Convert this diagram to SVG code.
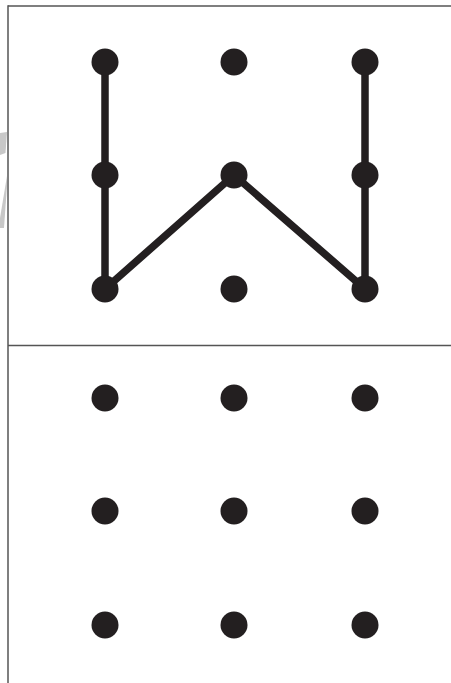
<svg xmlns="http://www.w3.org/2000/svg" width="451" height="683" viewBox="0 0 451 683">
<style>
.frame{stroke:#555;stroke-width:1.5;fill:none}
.dot{fill:#231f20}
.conn{stroke:#231f20;stroke-width:7.5;fill:none;stroke-linejoin:round}
</style>
<rect width="451" height="683" fill="#fff"/>
<g id="watermark" fill="#c8c8c8">
<polygon points="0,133 7,132 5.5,153 0,155"/>
<polygon points="7,176 7,186 4,228 0,228 0,218"/>
</g>
<g id="frame">
<line class="frame" x1="8" y1="6" x2="451" y2="6"/>
<line class="frame" x1="8" y1="5.25" x2="8" y2="683"/>
<line class="frame" x1="8" y1="345.5" x2="451" y2="345.5"/>
</g>
<g id="connectors">
<polyline class="conn" points="105,62 105,289 234,175 365,289 365,62"/>
</g>
<g id="top-grid">
<circle id="t1" class="dot" cx="105" cy="62" r="13.5"/>
<circle id="t2" class="dot" cx="234" cy="62" r="13.5"/>
<circle id="t3" class="dot" cx="365" cy="62" r="13.5"/>
<circle id="t4" class="dot" cx="105" cy="175" r="13.5"/>
<circle id="t5" class="dot" cx="234" cy="175" r="13.5"/>
<circle id="t6" class="dot" cx="365" cy="175" r="13.5"/>
<circle id="t7" class="dot" cx="105" cy="289" r="13.5"/>
<circle id="t8" class="dot" cx="234" cy="289" r="13.5"/>
<circle id="t9" class="dot" cx="365" cy="289" r="13.5"/>
</g>
<g id="bottom-grid">
<circle id="b1" class="dot" cx="105" cy="398" r="13.5"/>
<circle id="b2" class="dot" cx="234" cy="398" r="13.5"/>
<circle id="b3" class="dot" cx="365" cy="398" r="13.5"/>
<circle id="b4" class="dot" cx="105" cy="511" r="13.5"/>
<circle id="b5" class="dot" cx="234" cy="511" r="13.5"/>
<circle id="b6" class="dot" cx="365" cy="511" r="13.5"/>
<circle id="b7" class="dot" cx="105" cy="625" r="13.5"/>
<circle id="b8" class="dot" cx="234" cy="625" r="13.5"/>
<circle id="b9" class="dot" cx="365" cy="625" r="13.5"/>
</g>
</svg>
